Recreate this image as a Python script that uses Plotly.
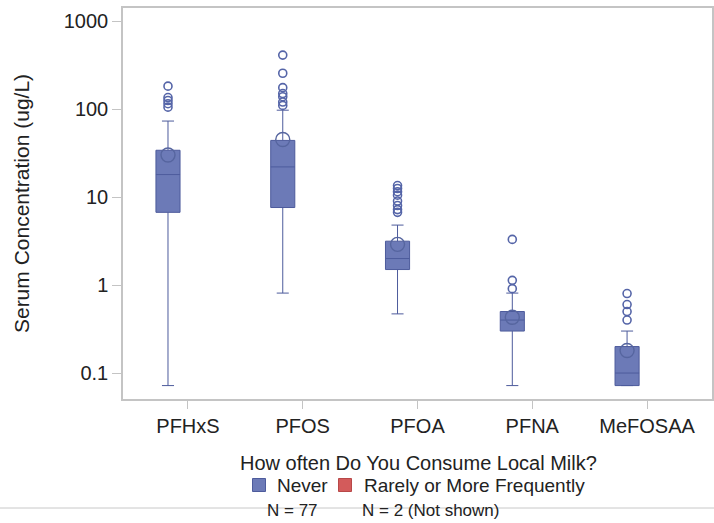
import plotly.graph_objects as go

# ---------------- data ----------------
CATEGORIES = ["PFHxS", "PFOS", "PFOA", "PFNA", "MeFOSAA"]
Q1 = [6.7, 7.6, 1.5, 0.30, 0.072]
MEDIAN = [18.0, 22.0, 2.0, 0.40, 0.10]
Q3 = [34.0, 44.0, 3.15, 0.50, 0.20]
LOWER_WHISKER = [0.072, 0.81, 0.47, 0.072, 0.072]
UPPER_WHISKER = [73.0, 97.0, 4.8, 0.81, 0.30]
MEAN = [30.0, 45.0, 2.9, 0.43, 0.18]
OUTLIERS = [
    [182, 135, 125, 115, 105],
    [410, 255, 175, 150, 138, 120, 110],
    [13.5, 12.5, 11.5, 10.5, 9.0, 8.0, 7.2, 6.7],
    [3.3, 1.13, 0.91],
    [0.8, 0.6, 0.5, 0.4],
]
GROUPS = ["Never", "Rarely or More Frequently"]
GROUP_N = ["N = 77", "N = 2 (Not shown)"]
LEGEND_TITLE = "How often Do You Consume Local Milk?"
Y_TITLE = "Serum Concentration (ug/L)"
Y_TICKS = [0.1, 1, 10, 100, 1000]
Y_TICK_LABELS = ["0.1", "1", "10", "100", "1000"]

# ---------------- style ----------------
FONT = "Liberation Sans, Arial, sans-serif"
TEXT = "#222222"
BLUE_FILL = "#6c7ab7"
BLUE_LINE = "#4d5b9c"
RED_FILL = "#d35b5b"
RED_LINE = "#b84848"
FRAME = "#c4c4c4"
NEVER_OFFSET = -0.174   # "Never" group sits left of the category centre
BOX_WIDTH = 0.21

W, H = 714, 523
ML, MR, MT, MB = 123, 2, 8, 124
PW, PH = W - ML - MR, H - MT - MB


def px(xpix):
    return (xpix - ML) / PW


def py(ypix):
    return (H - MB - ypix) / PH


idx = list(range(len(CATEGORIES)))
xpos = [i + NEVER_OFFSET for i in idx]

fig = go.Figure()

fig.add_trace(go.Box(
    x=xpos, q1=Q1, median=MEDIAN, q3=Q3,
    lowerfence=LOWER_WHISKER, upperfence=UPPER_WHISKER,
    width=BOX_WIDTH, whiskerwidth=0.5,
    fillcolor=BLUE_FILL, line=dict(color=BLUE_LINE, width=1),
    boxpoints=False, showlegend=False, hoverinfo="skip", name=GROUPS[0],
))

ox, oy = [], []
for x, vals in zip(xpos, OUTLIERS):
    for v in vals:
        ox.append(x)
        oy.append(v)
fig.add_trace(go.Scatter(
    x=ox, y=oy, mode="markers", showlegend=False, hoverinfo="skip",
    marker=dict(symbol="circle-open", size=8, color="#5565a8",
                line=dict(width=1.6, color="#5565a8")),
))
fig.add_trace(go.Scatter(
    x=xpos, y=MEAN, mode="markers", showlegend=False, hoverinfo="skip",
    marker=dict(symbol="circle-open", size=14, color="#56659f",
                line=dict(width=1.4, color="#56659f")),
))

fig.update_layout(
    width=W, height=H,
    margin=dict(l=ML, r=MR, t=MT, b=MB),
    paper_bgcolor="white", plot_bgcolor="white",
    font=dict(family=FONT, size=20, color=TEXT),
    showlegend=False,
    xaxis=dict(
        range=[-0.566, len(CATEGORIES) - 1 + 0.566],
        tickvals=idx, ticktext=CATEGORIES, automargin=False,
        showgrid=False, zeroline=False,
        showline=True, linecolor=FRAME, linewidth=1.5, mirror=True,
        ticks="outside", ticklen=8, tickcolor=FRAME, tickwidth=1,
        tickfont=dict(size=20, color=TEXT),
    ),
    yaxis=dict(
        type="log", range=[-1.295, 3.148], automargin=False,
        tickvals=Y_TICKS, ticktext=Y_TICK_LABELS,
        showgrid=False, zeroline=False,
        showline=True, linecolor=FRAME, linewidth=1.5, mirror=True,
        ticks="outside", ticklen=9, tickcolor=FRAME, tickwidth=1,
        tickfont=dict(size=20, color=TEXT),
        title=dict(text=Y_TITLE, font=dict(size=21, color=TEXT), standoff=28),
    ),
)

# ---- legend built below the plot ----
fig.add_annotation(x=px(418), y=py(463), xref="paper", yref="paper",
                   text=LEGEND_TITLE, showarrow=False,
                   xanchor="center", yanchor="middle",
                   font=dict(size=20, color=TEXT))
for (sq_x, txt_x), name, fill, edge in zip([(259, 275), (345, 362)], GROUPS,
                                           [BLUE_FILL, RED_FILL], [BLUE_LINE, RED_LINE]):
    fig.add_shape(type="rect", xref="paper", yref="paper",
                  x0=px(sq_x - 6.5), x1=px(sq_x + 6.5),
                  y0=py(485 + 6.5), y1=py(485 - 6.5),
                  fillcolor=fill, line=dict(color=edge, width=1))
    fig.add_annotation(x=px(txt_x), y=py(485), xref="paper", yref="paper",
                       text=name, showarrow=False,
                       xanchor="left", yanchor="middle",
                       font=dict(size=19, color=TEXT))

# thin rule across the bottom of the page
fig.add_shape(type="line", xref="paper", yref="paper",
              x0=px(0), x1=px(W), y0=py(508), y1=py(508),
              line=dict(color="#c8c8c8", width=1), layer="below")

# counts below the legend
for xc, txt in zip([292, 430], GROUP_N):
    fig.add_annotation(
        x=px(xc), y=py(510), xref="paper", yref="paper", text=txt,
        showarrow=False, xanchor="center", yanchor="middle",
        font=dict(size=17, color=TEXT),
    )

# remove the browser's default page margin so the figure fills the window
fig.write_html("out.html", config={"displayModeBar": False},
               post_script="document.body.style.margin='0px';")
